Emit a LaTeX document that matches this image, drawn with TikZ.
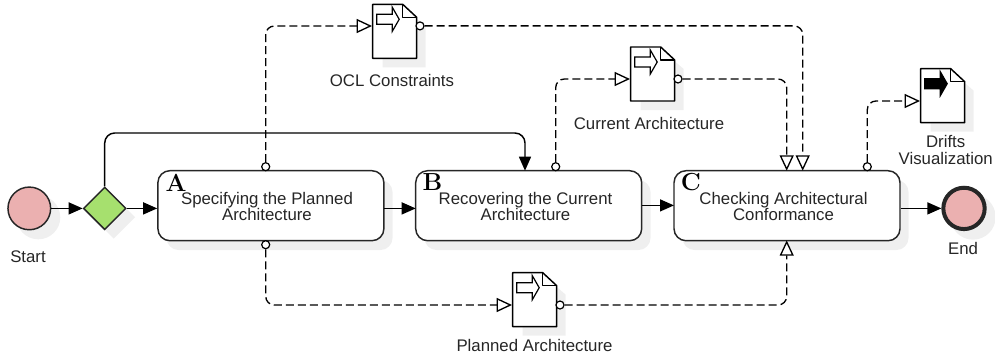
\documentclass[tikz,border=0pt]{standalone}
\usepackage{fontspec}
\newfontfamily\labelfont{Liberation Sans}
\usetikzlibrary{arrows.meta,shapes.geometric}
\definecolor{shadowgrey}{HTML}{EFEFEF}
\definecolor{eventpink}{HTML}{EBB0B0}
\definecolor{gatewaygreen}{HTML}{A6E06E}
\tikzset{
  x=0.75pt,y=-0.75pt,
  every path/.append style={line width=1.1pt},
  label text/.style={font=\labelfont\fontsize{12.6pt}{12.5pt}\selectfont,align=center,inner sep=0,text=black!85},
  letter/.style={font=\fontsize{18.5pt}{18.5pt}\selectfont\bfseries,inner sep=0},
  taskbox/.style={draw=black!85,fill=white,rounded corners=9pt,minimum width=169.5pt,minimum height=52.5pt,inner sep=0,line width=1.1pt},
  taskshadow/.style={fill=shadowgrey,rounded corners=9pt,minimum width=169.5pt,minimum height=52.5pt,inner sep=0},
  eventnode/.style={circle,draw=black!85,fill=eventpink,minimum size=32pt,inner sep=0},
  eventshadow/.style={circle,fill=shadowgrey,minimum size=33pt,inner sep=0},
  gatewaynode/.style={diamond,aspect=1,draw=black!85,fill=gatewaygreen,minimum size=32pt,inner sep=0},
  gatewayshadow/.style={diamond,aspect=1,fill=shadowgrey,minimum size=32.5pt,inner sep=0},
  docanchor/.style={minimum width=33pt,minimum height=4pt,inner sep=0},
  bulletnode/.style={circle,draw=black,fill=white,minimum size=6pt,inner sep=0,line width=0.9pt},
  flow/.style={-{Triangle[length=10.5pt,width=9pt,inset=0pt]},draw=black,rounded corners=7.5pt},
  assoc/.style={-{Triangle[open,fill=white,length=11.5pt,width=10.5pt,inset=0pt]},draw=black,line width=1pt,
    dash pattern=on 6pt off 3pt,rounded corners=6.5pt},
}
% \docshape{name}{left}{top}{icon fill}{connector height below the top}
\newcommand{\docshape}[5]{%
  \begin{scope}[shift={(#2,#3)}]
    \fill[shadowgrey] (10,9) -- (38,9) -- (53,22) -- (53,63) -- (10,63) -- cycle;
    \node[docanchor] (#1) at (22,#5) {};
    \draw[fill=white,line join=round] (0,0) -- (30,0) -- (44,13) -- (44,54) -- (0,54) -- cycle;
    \draw[line join=round,line width=0.9pt] (30,0) -- (30,13) -- (44,13);
    \draw[fill=#4,line width=0.9pt,line join=miter] (4,10) -- (19.6,10) -- (19.6,3) -- (26.5,15) -- (19.6,27) -- (19.6,20) -- (4,20) -- cycle;
  \end{scope}}
\begin{document}
\begin{tikzpicture}
\useasboundingbox (0,0) rectangle (995,361);
% shadows
\node[eventshadow] at (38.3,217.3) {};
\node[gatewayshadow] at (113.7,217.3) {};
\node[taskshadow] at (279.5,215) {};
\node[taskshadow] at (537.5,215) {};
\node[taskshadow] at (795.5,215) {};
\node[eventshadow,minimum size=34pt] at (973,217) {};
% documents
\docshape{ocl}{372.7}{4.3}{white}{21.7}
\docshape{cur}{630.7}{47}{white}{32}
\docshape{drift}{920.7}{68.7}{black}{32.3}
\docshape{plan}{512.7}{272.7}{white}{32.3}
% nodes
\node[eventnode] (start) at (29.3,208.4) {};
\node[gatewaynode] (gate) at (104.7,208.4) {};
\node[taskbox] (taskA) at (270.9,205.7) {};
\node[taskbox] (taskB) at (528.7,205.7) {};
\node[taskbox] (taskC) at (787,205.7) {};
\node[eventnode,minimum size=31pt,line width=3pt] (end) at (964,208.4) {};
\node[label text] (textA) at (267,206.6) {Specifying the Planned\\Architecture};
\node[label text] (textB) at (525.5,206.6) {Recovering the Current\\Architecture};
\node[label text] (textC) at (783.5,206.6) {Checking Architectural\\Conformance};
\node[letter] (letA) at (176,182.5) {A};
\node[letter] (letB) at (432.5,182.5) {B};
\node[letter] (letC) at (691,182.5) {C};
% labels
\node[label text] (tStart) at (28,257) {Start};
\node[label text] (tEnd) at (963,248) {End};
\node[label text] (tOcl) at (392,80) {OCL Constraints};
\node[label text] (tCur) at (649,123) {Current Architecture};
\node[label text] (tDrift) at (945.7,150.3) {Drifts\\Visualization};
\node[label text] (tPlan) at (534.5,345) {Planned Architecture};
% connector ends
\node[bulletnode] (bA1) at (265.7,166.7) {};
\node[bulletnode] (bA2) at (265.7,244.7) {};
\node[bulletnode] (bB) at (555.7,166.7) {};
\node[bulletnode] (bC) at (867.3,166.7) {};
\node[bulletnode] (bO) at (420,25.9) {};
\node[bulletnode] (bCu) at (678,79) {};
\node[bulletnode] (bP) at (560,305) {};
\coordinate (inC1) at (786.7,170.7);
\coordinate (inC2) at (802.7,170.7);
\coordinate (inC3) at (786.7,240.4);
\coordinate (inB) at (525,170.7);
\coordinate (outA) at (384,208.4);
\coordinate (inBl) at (415.7,208.4);
\coordinate (outB) at (641.7,205.4);
\coordinate (inCl) at (674,205.4);
\coordinate (over) at (300,133);
% flows
\draw[flow] (start.east) -- (gate.west);
\draw[flow] (gate.east) -- (taskA.west |- gate.east);
\draw[flow] (outA) -- (inBl);
\draw[flow] (outB) -- (inCl);
\draw[flow] (taskC.east |- end.west) -- (end.west);
\draw[flow] (gate.north) |- (over) -| (inB);
% associations
\draw[assoc] (bA1.north) |- (ocl.west);
\draw[assoc] (bO.east) -| (inC2);
\draw[assoc] (bB.north) |- (cur.west);
\draw[assoc] (bCu.east) -| (inC1);
\draw[assoc] (bC.north) |- (drift.west);
\draw[assoc] (bA2.south) |- (plan.west);
\draw[assoc] (bP.east) -| (inC3);
\end{tikzpicture}
\end{document}
